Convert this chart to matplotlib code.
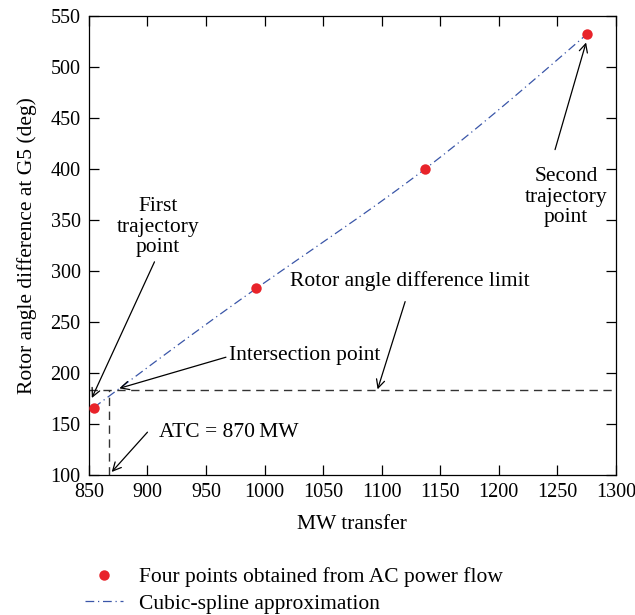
import numpy as np
import matplotlib
matplotlib.use("Agg")
import matplotlib.pyplot as plt
from matplotlib.lines import Line2D

plt.rcParams['font.family'] = ['Liberation Serif', 'DejaVu Serif']
FS = 15.5
plt.rcParams['font.size'] = FS

# data
mw = [854, 993, 1137, 1275]
angle = [166, 283, 400, 532]
limit = 183
atc = 867
xticks = [850, 900, 950, 1000, 1050, 1100, 1150, 1200, 1250, 1300]
yticks = [100, 150, 200, 250, 300, 350, 400, 450, 500, 550]


def natural_cubic_spline(x, y, xs):
    x = np.asarray(x, float); y = np.asarray(y, float)
    n = len(x)
    h = np.diff(x)
    A = np.zeros((n, n)); b = np.zeros(n)
    A[0, 0] = 1; A[-1, -1] = 1
    for i in range(1, n - 1):
        A[i, i - 1] = h[i - 1]
        A[i, i] = 2 * (h[i - 1] + h[i])
        A[i, i + 1] = h[i]
        b[i] = 3 * ((y[i + 1] - y[i]) / h[i] - (y[i] - y[i - 1]) / h[i - 1])
    c = np.linalg.solve(A, b)
    out = np.empty_like(xs)
    for k, xv in enumerate(xs):
        i = min(max(np.searchsorted(x, xv) - 1, 0), n - 2)
        bi = (y[i + 1] - y[i]) / h[i] - h[i] * (2 * c[i] + c[i + 1]) / 3
        di = (c[i + 1] - c[i]) / (3 * h[i])
        dx = xv - x[i]
        out[k] = y[i] + bi * dx + c[i] * dx ** 2 + di * dx ** 3
    return out


fig = plt.figure(figsize=(6.35, 6.15), dpi=100)
ax = fig.add_axes([0.140, 0.2276, 0.830, 0.7464])

xs = np.linspace(mw[0], mw[-1], 300)
ys = natural_cubic_spline(mw, angle, xs)
blue = '#3a56a8'
ax.plot(xs, ys, color=blue, lw=0.9, dashes=(7, 3, 1, 3))
ax.plot(mw, angle, 'o', color='#e8232a', ms=7.5, mec='none', zorder=5)

ax.plot([850, 1300], [limit, limit], color='#333333', lw=1.0, dashes=(6, 4))
ax.plot([atc, atc], [100, limit], color='#333333', lw=1.0, dashes=(6, 4))

ax.set_xlim(850, 1300)
ax.set_ylim(100, 550)
ax.set_xticks(xticks)
ax.set_yticks(yticks)
ax.tick_params(direction='in', top=True, right=True, length=7, width=0.9,
               labelsize=14.5, pad=6)
for s in ax.spines.values():
    s.set_linewidth(0.9)
ax.set_xlabel('MW transfer', fontsize=FS, labelpad=9)
ax.set_ylabel('Rotor angle difference at G5 (deg)', fontsize=FS, labelpad=10)

ap = dict(arrowstyle='->', color='black', lw=0.9, shrinkA=0, shrinkB=0,
          mutation_scale=15)
ax.annotate('', xy=(852.5, 175.5), xytext=(906, 309), arrowprops=ap)
ax.text(909, 343, 'First\ntrajectory\npoint', ha='center', va='center',
        fontsize=FS, linespacing=1.12)
ax.annotate('', xy=(876, 185), xytext=(967, 215.5), arrowprops=ap)
ax.text(970, 217.5, 'Intersection point', ha='left', va='center', fontsize=FS)
ax.annotate('', xy=(1096.5, 184), xytext=(1120, 270), arrowprops=ap)
ax.text(1022, 290, 'Rotor angle difference limit', ha='left', va='center',
        fontsize=FS)
ax.annotate('', xy=(1274.5, 524), xytext=(1248, 419), arrowprops=ap)
ax.text(1257.5, 372.5, 'Second\ntrajectory\npoint', ha='center', va='center',
        fontsize=FS, linespacing=1.12)
ax.annotate('', xy=(869.5, 103), xytext=(900, 142), arrowprops=ap)
ax.text(909.5, 142, 'ATC = 870\u2009MW', ha='left', va='center', fontsize=FS)

handles = [
    Line2D([], [], marker='o', ls='none', color='#e8232a', ms=7.5, mec='none'),
    Line2D([], [], color=blue, lw=0.9, dashes=(7, 3, 1, 3)),
]
leg = fig.legend(handles, ['Four points obtained from AC power flow',
                           'Cubic-spline approximation'],
                 loc='upper left', frameon=False, fontsize=FS,
                 handlelength=1.75, handletextpad=0.75,
                 labelspacing=0.3, borderaxespad=0, borderpad=0)
leg.set_bbox_to_anchor((85 / 635, 1 - 567 / 615), transform=fig.transFigure)

fig.savefig('out.png', dpi=100)
